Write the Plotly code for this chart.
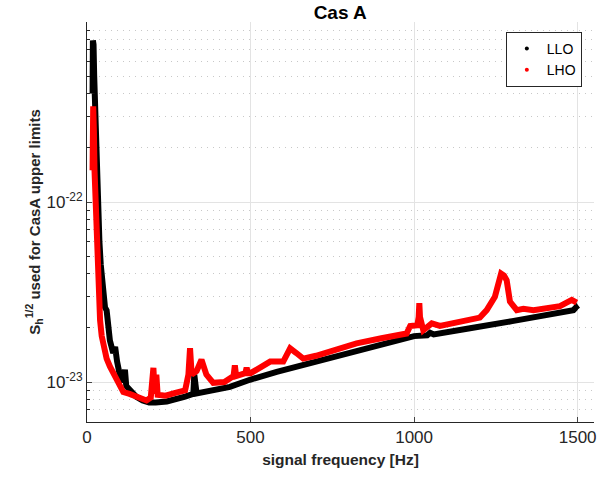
import numpy as np
import plotly.graph_objects as go

# LLO (black) - frequency [Hz] and strain amplitude
llo_freq = [17, 18, 20, 22, 25, 28, 32, 35, 38, 42, 46, 50, 55, 60, 65, 70, 80, 86, 92,
            100, 110, 116, 120, 130, 150, 170, 190, 210, 244, 300, 325, 328, 332, 335,
            437, 498, 580, 700, 800, 900, 988, 1000, 1040, 1049, 1060, 1079, 1171, 1300,
            1400, 1487, 1495, 1500]
llo_val = [4.0e-22, 7.9e-22, 7.5e-22, 5.0e-22, 3.0e-22, 1.8e-22, 1.3e-22, 8.0e-23, 6.0e-23,
           4.5e-23, 3.5e-23, 2.8e-23, 2.6e-23, 2.5e-23, 2.0e-23, 1.7e-23, 1.45e-23, 1.57e-23,
           1.3e-23, 1.1e-23, 1.0e-23, 1.17e-23, 9.5e-24, 9.0e-24, 8.3e-24, 7.9e-24, 7.7e-24,
           7.7e-24, 7.8e-24, 8.3e-24, 8.6e-24, 1.1e-23, 8.65e-24, 8.65e-24,
           9.4e-24, 1.03e-23, 1.14e-23, 1.3e-23, 1.45e-23, 1.6e-23, 1.75e-23, 1.8e-23, 1.82e-23,
           1.88e-23, 1.84e-23, 1.86e-23, 1.99e-23, 2.18e-23, 2.34e-23, 2.51e-23, 2.6e-23, 2.53e-23]

# LHO (red)
lho_freq = [17, 19, 21, 23, 25, 28, 30, 33, 35, 40, 45, 50, 60, 70, 80, 91, 100, 111, 130,
            152, 170, 182, 195, 200, 203, 207, 212, 216, 240, 270, 300, 310, 315, 320, 335,
            350, 365, 386, 420, 448, 452, 456, 484, 488, 492, 500, 560, 600, 621, 640, 661,
            700, 824, 900, 977, 988, 1010, 1014, 1016, 1018, 1028, 1054, 1079, 1171, 1201,
            1222, 1247, 1266, 1275, 1283, 1293, 1314, 1334, 1365, 1446, 1482, 1497]
lho_val = [1.5e-22, 3.4e-22, 2.5e-22, 1.5e-22, 1.1e-22, 7.0e-23, 5.2e-23, 4.0e-23, 3.4e-23,
           2.2e-23, 1.8e-23, 1.57e-23, 1.35e-23, 1.22e-23, 1.12e-23, 1.0e-23, 9.4e-24, 8.8e-24,
           8.6e-24, 8.3e-24, 8.0e-24, 7.9e-24, 8.2e-24, 1.1e-23, 1.2e-23, 8.6e-24, 1.1e-23,
           8.5e-24, 8.4e-24, 8.7e-24, 9.0e-24, 1.1e-23, 1.54e-23, 1.1e-23, 1.15e-23,
           1.33e-23, 1.1e-23, 9.9e-24, 1.0e-23, 1.08e-23, 1.24e-23, 1.08e-23, 1.12e-23, 1.2e-23,
           1.12e-23, 1.12e-23, 1.3e-23, 1.3e-23, 1.54e-23, 1.45e-23, 1.35e-23,
           1.4e-23, 1.64e-23, 1.75e-23, 1.86e-23, 2.05e-23, 2.07e-23, 2.3e-23, 2.74e-23, 2.3e-23,
           1.94e-23, 2.12e-23, 2.05e-23, 2.22e-23, 2.28e-23,
           2.51e-23, 2.98e-23, 4.0e-23, 3.9e-23, 3.68e-23, 2.8e-23, 2.51e-23, 2.55e-23, 2.51e-23,
           2.64e-23, 2.86e-23, 2.76e-23]

x_ticks = [0, 500, 1000, 1500]
y_major = [1e-23, 1e-22]
y_major_text = ["10<sup>-23</sup>", "10<sup>-22</sup>"]
y_minor = [6e-24, 7e-24, 8e-24, 9e-24] + [k * 1e-23 for k in range(2, 10)] + [k * 1e-22 for k in range(2, 10)]

axis_color = "#262626"
font = "Liberation Sans, Arial, sans-serif"

fig = go.Figure()

fig.add_trace(go.Scatter(x=llo_freq, y=llo_val, mode="lines", showlegend=False,
                         line=dict(color="black", width=6)))
fig.add_trace(go.Scatter(x=lho_freq, y=lho_val, mode="lines", showlegend=False,
                         line=dict(color="#ff0000", width=6)))

# legend entries shown as dots like the original
fig.add_trace(go.Scatter(x=[None], y=[None], mode="markers", name="LLO",
                         marker=dict(color="black", size=4)))
fig.add_trace(go.Scatter(x=[None], y=[None], mode="markers", name="LHO",
                         marker=dict(color="#ff0000", size=4)))

fig.update_layout(
    width=613, height=478, autosize=False,
    margin=dict(l=87, r=19, t=22, b=56),
    paper_bgcolor="white", plot_bgcolor="white",
    font=dict(family=font, size=16, color=axis_color),
    title=dict(text="<b>Cas A</b>", x=0.555, xanchor="center", y=0.975, yanchor="middle",
               yref="container", font=dict(size=19, color="black")),
    legend=dict(x=0.976, y=0.975, xanchor="right", yanchor="top",
                bgcolor="white", bordercolor=axis_color, borderwidth=1,
                font=dict(size=14, color="black"), itemwidth=30,
                tracegroupgap=0),
    xaxis=dict(
        range=[0, 1550], tickvals=x_ticks, ticks="inside", ticklen=5,
        showline=True, linecolor=axis_color, linewidth=1, mirror=False,
        showgrid=True, gridcolor="#e3e3e3", gridwidth=1, zeroline=False,
        tickfont=dict(size=17, color=axis_color), automargin=False,
        title=dict(text="<b>signal frequency [Hz]</b>", standoff=7,
                   font=dict(size=15.5, color=axis_color)),
    ),
    yaxis=dict(
        type="log", range=[np.log10(6e-24), np.log10(1e-21)],
        tickvals=y_major, ticktext=y_major_text, ticks="inside", ticklen=5,
        showline=True, linecolor=axis_color, linewidth=1, mirror=False,
        showgrid=True, gridcolor="#e3e3e3", gridwidth=1, zeroline=False,
        tickfont=dict(size=17, color=axis_color), automargin=False,
        minor=dict(tickvals=y_minor, ticks="inside", ticklen=3, tickcolor=axis_color,
                   showgrid=True, gridcolor="#c8c8c8", griddash="1px,5px", gridwidth=1),
        title=dict(text="<b>S<sub>h</sub><sup>1/2</sup> used for CasA upper limits</b>",
                   standoff=2, font=dict(size=15, color=axis_color)),
    ),
)

# drop the default page margin so the figure sits at the window corner
fig.write_html("out.html", config={"displayModeBar": False},
               post_script="document.body.style.margin = '0';")
